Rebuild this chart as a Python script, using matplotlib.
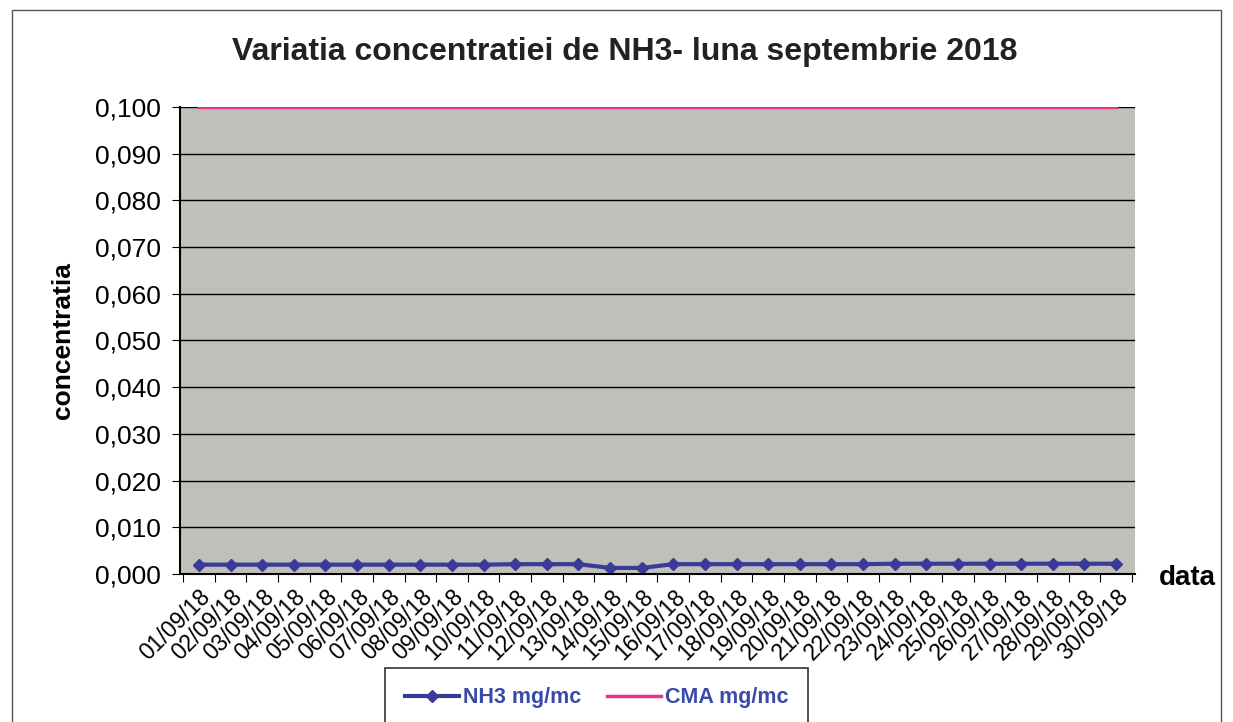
import matplotlib.pyplot as plt
from matplotlib.patches import Rectangle

plt.rcParams['font.family'] = ['Liberation Sans', 'DejaVu Sans']

# Data
dates = ['%02d/09/18' % d for d in range(1, 31)]
nh3 = [0.0020, 0.0020, 0.0020, 0.0020, 0.0020, 0.0020, 0.0020, 0.0020,
       0.0020, 0.0020, 0.0021, 0.0021, 0.0021, 0.0013, 0.0013, 0.0021,
       0.0021, 0.0021, 0.0021, 0.0021, 0.0021, 0.0021, 0.0022, 0.0022,
       0.0022, 0.0022, 0.0022, 0.0022, 0.0022, 0.0022]
cma = [0.100] * 30
yticks = [0.000, 0.010, 0.020, 0.030, 0.040, 0.050, 0.060, 0.070, 0.080, 0.090, 0.100]

fig = plt.figure(figsize=(12.33, 7.22), dpi=100)
fig.patch.set_facecolor('white')

# Outer chart frame
fig.patches.append(Rectangle((0.01, -0.01), 0.98, 0.996, transform=fig.transFigure,
                             fill=False, edgecolor='#555555', linewidth=1))

ax = fig.add_axes([0.146, 0.205, 0.7745, 0.647])
ax.set_facecolor('#bfc0ba')

x = range(len(dates))
ax.plot(x, nh3, color='#3a3a98', linewidth=3, marker='D', markersize=6,
        label='NH3 mg/mc')
ax.plot(x, cma, color='#e8338c', linewidth=2.5, label='CMA mg/mc')

ax.set_xlim(-0.6, len(dates) - 0.4)
ax.set_ylim(0, 0.100)
ax.set_yticks(yticks)
ax.set_yticklabels([('%.3f' % v).replace('.', ',') for v in yticks], fontsize=19)
ax.grid(axis='y', color='black', linewidth=1)
ax.set_axisbelow(True)

ax.set_xticks([i - 0.5 for i in range(len(dates) + 1)], minor=False)
ax.set_xticklabels([])
ax.set_xticks(list(x), minor=True)
ax.set_xticklabels(dates, minor=True, rotation=45, ha='right',
                   rotation_mode='anchor', fontsize=16.5)
ax.tick_params(axis='x', which='minor', length=0, pad=8)
ax.tick_params(axis='x', which='major', length=6, direction='out')
ax.tick_params(axis='y', length=6, direction='out', pad=8)

for s in ['top', 'right']:
    ax.spines[s].set_visible(False)
ax.spines['left'].set_linewidth(1.5)
ax.spines['bottom'].set_linewidth(1.5)

ax.set_ylabel('concentratia', fontsize=19, fontweight='bold', labelpad=14)
fig.text(0.94, 0.2, 'data', fontsize=20, fontweight='bold', va='center', ha='left')
fig.text(0.507, 0.928, 'Variatia concentratiei de NH3- luna septembrie 2018',
         fontsize=23, fontweight='bold', ha='center', va='center', color='#222222')

leg = fig.legend(loc='upper center', bbox_to_anchor=(0.484, 0.075), ncol=2,
                 frameon=True, fancybox=False, edgecolor='black',
                 handlelength=2.5, handletextpad=0.2, columnspacing=1.2, borderpad=0.9,
                 borderaxespad=0, prop={'weight': 'bold', 'size': 15.5})
leg.get_frame().set_linewidth(1.2)
for t in leg.get_texts():
    t.set_color('#3a4aa8')

fig.savefig('out.png', dpi=100)
